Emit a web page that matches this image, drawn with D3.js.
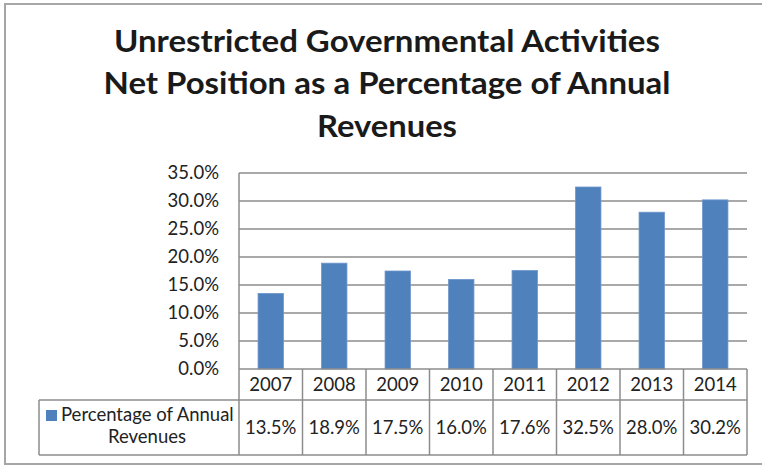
<!DOCTYPE html>
<html>
<head>
<meta charset="utf-8">
<script src="https://cdn.jsdelivr.net/npm/d3@7"></script>
<style>
  html, body { margin: 0; padding: 0; background: #fff; }
  svg { display: block; }
  text { font-family: Lato, "Liberation Sans", Arial, sans-serif; fill: #222; }
</style>
</head>
<body>
<svg id="chart" width="762" height="466"></svg>
<script>
// Chart data
const years = ["2007", "2008", "2009", "2010", "2011", "2012", "2013", "2014"];
const percentages = [13.5, 18.9, 17.5, 16.0, 17.6, 32.5, 28.0, 30.2];
const yTicks = [0, 5, 10, 15, 20, 25, 30, 35];
const seriesName = ["Percentage of Annual", "Revenues"];
const titleLines = [
  "Unrestricted Governmental Activities",
  "Net Position as a Percentage of Annual",
  "Revenues"
];

const svg = d3.select("#chart");
const barColor = "#4F81BD";
const gridColor = "#8c8c8c";
const fontSize = 18.5;

// Outer frame
svg.append("rect")
  .attr("x", 5).attr("y", 4).attr("width", 770).attr("height", 460)
  .attr("fill", "none").attr("stroke", "#a6a6a6").attr("stroke-width", 2);

// Title
const titleBaselines = [52, 94, 137];
const titleWidths = [546, 567, 140];
svg.append("g").selectAll("text")
  .data(titleLines)
  .join("text")
  .attr("x", 387)
  .attr("y", (d, i) => titleBaselines[i])
  .attr("text-anchor", "middle")
  .attr("font-size", 31)
  .attr("font-weight", "bold")
  .attr("textLength", (d, i) => titleWidths[i])
  .attr("lengthAdjust", "spacingAndGlyphs")
  .style("fill", "#1a1a1a")
  .text(d => d);

// Plot geometry
const plotLeft = 239, plotRight = 747, plotTop = 173, plotBottom = 369;
const headerBottom = 400, tableBottom = 455, legendLeft = 39;

const x = d3.scaleBand().domain(years).range([plotLeft, plotRight]).padding(0);
const xBar = d3.scaleBand().domain(years).range([plotLeft, plotRight])
  .paddingInner(0.6).paddingOuter(0.3);
const y = d3.scaleLinear().domain([0, 35]).range([plotBottom, plotTop]);

// Horizontal gridlines
svg.append("g").selectAll("line")
  .data(yTicks.filter(t => t > 0))
  .join("line")
  .attr("x1", plotLeft).attr("x2", plotRight)
  .attr("y1", d => y(d)).attr("y2", d => y(d))
  .attr("stroke", gridColor).attr("stroke-width", 1.5);

// Y axis labels via d3 axis
const yAxis = svg.append("g")
  .attr("transform", `translate(${plotLeft - 20},0)`)
  .call(d3.axisLeft(y).tickValues(yTicks).tickFormat(d => d3.format(".1f")(d) + "%").tickSize(0).tickPadding(0));
yAxis.select(".domain").remove();
yAxis.selectAll("text")
  .attr("x", 0)
  .attr("font-size", fontSize)
  .style("font-family", "Lato, 'Liberation Sans', Arial, sans-serif")
  .style("fill", "#222");

// Bars
svg.append("g").selectAll("rect")
  .data(years.map((yr, i) => ({ yr, v: percentages[i] })))
  .join("rect")
  .attr("x", d => xBar(d.yr))
  .attr("width", xBar.bandwidth())
  .attr("y", d => y(d.v))
  .attr("height", d => y(0) - y(d.v))
  .attr("fill", barColor)
  .attr("stroke", "#6f97cc").attr("stroke-width", 0.8);

// Data table: grid lines
const tbl = svg.append("g").attr("stroke", gridColor).attr("stroke-width", 1.5);
// Left axis line through the table
tbl.append("line").attr("x1", plotLeft).attr("x2", plotLeft).attr("y1", plotTop).attr("y2", tableBottom);
// Zero line / table top
tbl.append("line").attr("x1", plotLeft).attr("x2", plotRight).attr("y1", plotBottom).attr("y2", plotBottom);
// Header bottom spans from legend cell
tbl.append("line").attr("x1", legendLeft).attr("x2", plotRight).attr("y1", headerBottom).attr("y2", headerBottom);
// Table bottom
tbl.append("line").attr("x1", legendLeft).attr("x2", plotRight).attr("y1", tableBottom).attr("y2", tableBottom);
// Legend cell left edge
tbl.append("line").attr("x1", legendLeft).attr("x2", legendLeft).attr("y1", headerBottom).attr("y2", tableBottom);
// Column separators
tbl.selectAll("line.col")
  .data(years)
  .join("line")
  .attr("class", "col")
  .attr("x1", d => x(d) + x.bandwidth()).attr("x2", d => x(d) + x.bandwidth())
  .attr("y1", plotBottom).attr("y2", tableBottom);

// Year headers
svg.append("g").selectAll("text")
  .data(years)
  .join("text")
  .attr("x", d => x(d) + x.bandwidth() / 2)
  .attr("y", 391)
  .attr("text-anchor", "middle")
  .attr("font-size", fontSize)
  .text(d => d);

// Values row
svg.append("g").selectAll("text")
  .data(years.map((yr, i) => ({ yr, v: percentages[i] })))
  .join("text")
  .attr("x", d => x(d.yr) + x.bandwidth() / 2)
  .attr("y", 434)
  .attr("text-anchor", "middle")
  .attr("font-size", fontSize)
  .text(d => d3.format(".1f")(d.v) + "%");

// Legend key and series name
svg.append("rect")
  .attr("x", 46).attr("y", 410).attr("width", 11).attr("height", 11)
  .attr("fill", barColor);
svg.append("text")
  .attr("x", 61).attr("y", 421)
  .attr("font-size", fontSize)
  .text(seriesName[0]);
svg.append("text")
  .attr("x", 147).attr("y", 443)
  .attr("text-anchor", "middle")
  .attr("font-size", fontSize)
  .text(seriesName[1]);
</script>
</body>
</html>
